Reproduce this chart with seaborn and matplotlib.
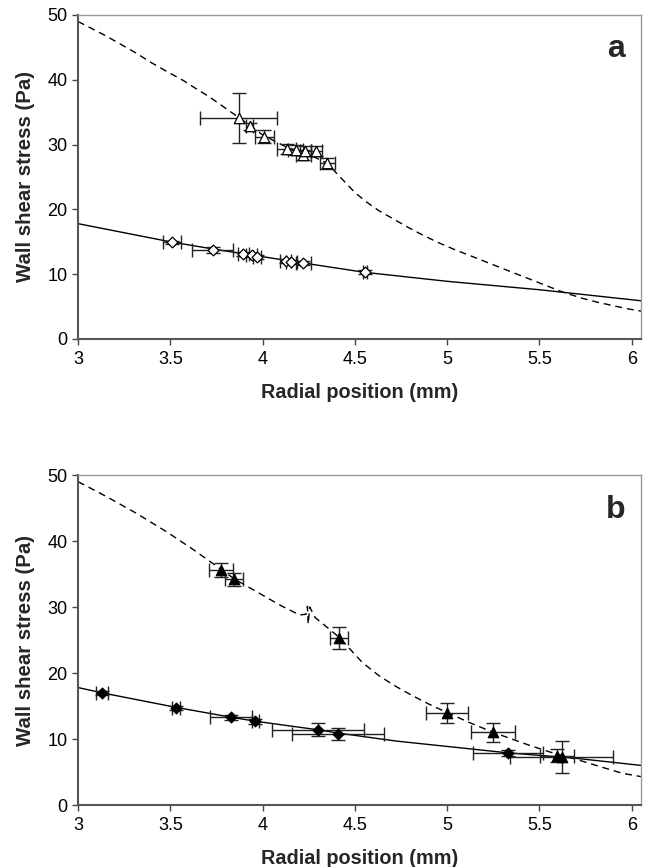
import numpy as np
import pandas as pd
import matplotlib
matplotlib.use("Agg")
import matplotlib.pyplot as plt
import seaborn as sns

# ---- model curves (radial position in mm, wall shear stress in Pa) ----
a_dash_x = [3.00, 3.15, 3.31, 3.40, 3.48, 3.57, 3.63, 3.71, 3.80, 3.87, 4.00, 4.13,
            4.25, 4.35, 4.42, 4.50, 4.56, 4.63, 4.71, 4.79, 4.87, 4.95, 5.04, 5.13,
            5.21, 5.29, 5.37, 5.46, 5.54, 5.63, 5.73, 5.81, 5.97, 6.05]
a_dash_y = [49.0, 46.8, 44.2, 42.6, 41.3, 39.9, 38.8, 37.4, 35.6, 34.2, 31.5, 29.6,
            28.5, 27.1, 25.0, 22.6, 21.2, 19.8, 18.5, 17.2, 16.0, 14.9, 13.8, 12.8,
            11.9, 11.0, 10.1, 9.1, 8.2, 7.2, 6.3, 5.7, 4.7, 4.3]
a_solid_x = [3.00, 3.50, 3.75, 4.00, 4.25, 4.55, 5.00, 5.50, 6.05]
a_solid_y = [17.8, 15.0, 13.8, 12.7, 11.6, 10.3, 8.9, 7.6, 5.9]

b_dash_x = [3.00, 3.15, 3.31, 3.48, 3.63, 3.775, 3.85, 4.00, 4.10, 4.20, 4.235, 4.243,
            4.247, 4.255, 4.285, 4.32, 4.415, 4.54, 4.63, 4.72, 4.81, 4.90, 5.00, 5.12,
            5.25, 5.35, 5.44, 5.56, 5.69, 5.83, 5.95, 6.05]
b_dash_y = [49.0, 46.8, 44.3, 41.4, 38.6, 35.7, 34.2, 31.8, 30.2, 28.8, 28.9, 30.1,
            27.4, 30.0, 28.4, 27.6, 25.4, 21.6, 19.6, 18.0, 16.6, 15.3, 14.0, 12.5,
            11.0, 10.0, 9.1, 8.0, 7.0, 5.8, 4.8, 4.3]
b_solid_x = [3.00, 3.13, 3.53, 3.83, 3.96, 4.30, 4.41, 4.72, 5.33, 5.69, 6.05]
b_solid_y = [17.8, 17.0, 14.8, 13.3, 12.7, 11.4, 10.9, 9.7, 7.9, 7.1, 6.0]

# ---- measurements with x / y uncertainties ----
a_tri_x    = [3.87, 3.93, 4.01, 4.13, 4.18, 4.22, 4.23, 4.29, 4.35]
a_tri_y    = [34.1, 32.8, 31.2, 29.3, 29.2, 28.4, 29.0, 29.0, 27.1]
a_tri_xerr = [0.21, 0.02, 0.05, 0.05, 0.04, 0.04, 0.03, 0.03, 0.04]
a_tri_yerr = [3.8, 0.5, 1.0, 0.8, 0.8, 0.8, 0.8, 0.8, 0.9]

a_dia_x    = [3.51, 3.73, 3.895, 3.94, 3.97, 4.125, 4.155, 4.22, 4.555]
a_dia_y    = [14.9, 13.7, 13.1, 12.9, 12.7, 12.0, 11.9, 11.7, 10.4]
a_dia_xerr = [0.05, 0.11, 0.03, 0.03, 0.02, 0.03, 0.03, 0.04, 0.01]
a_dia_yerr = [0.3, 0.5, 0.3, 0.3, 0.3, 0.3, 0.3, 0.3, 0.3]

b_tri_x    = [3.775, 3.845, 4.415, 5.00, 5.25, 5.595, 5.62]
b_tri_y    = [35.6, 34.2, 25.3, 14.0, 11.0, 7.5, 7.3]
b_tri_xerr = [0.065, 0.05, 0.05, 0.115, 0.12, 0.09, 0.28]
b_tri_yerr = [1.1, 1.0, 1.6, 1.5, 1.4, 1.0, 2.4]

b_dia_x    = [3.13, 3.53, 3.83, 3.96, 4.30, 4.41, 5.33]
b_dia_y    = [16.9, 14.7, 13.3, 12.7, 11.4, 10.8, 7.9]
b_dia_xerr = [0.03, 0.02, 0.115, 0.02, 0.25, 0.25, 0.19]
b_dia_yerr = [0.3, 0.3, 0.4, 0.4, 1.0, 0.9, 0.5]

x_ticks = [3, 3.5, 4, 4.5, 5, 5.5, 6]
x_tick_labels = ["3", "3.5", "4", "4.5", "5", "5.5", "6"]
y_ticks = [0, 10, 20, 30, 40, 50]
panel_letters = ["a", "b"]
x_label = "Radial position (mm)"
y_label = "Wall shear stress (Pa)"

sns.set_style("white")
plt.rcParams["font.family"] = ["Liberation Sans", "DejaVu Sans"]

fig = plt.figure(figsize=(6.49, 8.67), dpi=100)
ax_a = fig.add_axes([0.1202, 0.609, 0.8675, 0.3737])
ax_b = fig.add_axes([0.1202, 0.0715, 0.8675, 0.3806])


def draw_panel(ax, dash_x, dash_y, solid_x, solid_y,
               tx, ty, txe, tye, dx, dy, dxe, dye, filled, letter):
    sns.lineplot(x=dash_x, y=dash_y, ax=ax, color="black", lw=1.0,
                 linestyle=(0, (5, 3.5)), sort=False, estimator=None)
    sns.lineplot(x=solid_x, y=solid_y, ax=ax, color="black", lw=1.0,
                 sort=False, estimator=None)
    ax.errorbar(tx, ty, xerr=txe, yerr=tye, fmt="none", ecolor="#222222",
                elinewidth=1.0, capsize=5, capthick=1.0, zorder=3)
    ax.errorbar(dx, dy, xerr=dxe, yerr=dye, fmt="none", ecolor="#222222",
                elinewidth=1.0, capsize=5, capthick=1.0, zorder=3)
    face = "black" if filled else "white"
    sns.scatterplot(x=tx, y=ty, ax=ax, marker="^", s=56, color=face,
                    edgecolor="black", linewidth=0.9, zorder=4)
    sns.scatterplot(x=dx, y=dy, ax=ax, marker="D", s=30, color=face,
                    edgecolor="black", linewidth=0.9, zorder=4)

    ax.set_xlim(3, 6.05)
    ax.set_ylim(0, 50)
    ax.set_xticks(x_ticks)
    ax.set_xticklabels(x_tick_labels)
    ax.set_yticks(y_ticks)
    ax.tick_params(axis="both", direction="out", length=4.5, width=1.0,
                   color="#444444", labelsize=13, pad=3, labelcolor="black")
    ax.tick_params(axis="x", bottom=True, pad=4)
    ax.tick_params(axis="y", left=True)
    for side in ("left", "bottom"):
        ax.spines[side].set_color("#555555")
        ax.spines[side].set_linewidth(1.5)
    for side in ("top", "right"):
        ax.spines[side].set_color("#9a9a9a")
        ax.spines[side].set_linewidth(1.0)
    ax.set_xlabel(x_label, fontsize=14.3, fontweight="bold", labelpad=11)
    ax.set_ylabel(y_label, fontsize=14.7, fontweight="bold", labelpad=9)
    ax.text(0.955, 0.895, letter, transform=ax.transAxes, fontsize=23,
            fontweight="bold", ha="center", va="center")


draw_panel(ax_a, a_dash_x, a_dash_y, a_solid_x, a_solid_y,
           a_tri_x, a_tri_y, a_tri_xerr, a_tri_yerr,
           a_dia_x, a_dia_y, a_dia_xerr, a_dia_yerr, False, panel_letters[0])
draw_panel(ax_b, b_dash_x, b_dash_y, b_solid_x, b_solid_y,
           b_tri_x, b_tri_y, b_tri_xerr, b_tri_yerr,
           b_dia_x, b_dia_y, b_dia_xerr, b_dia_yerr, True, panel_letters[1])

fig.savefig("out.png", dpi=100)
